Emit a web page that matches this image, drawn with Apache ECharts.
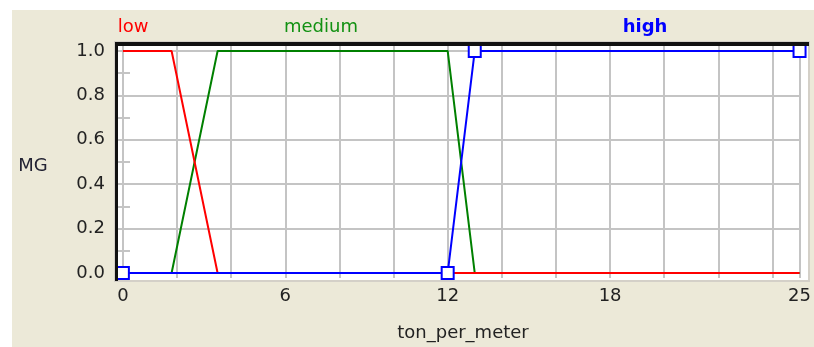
<!DOCTYPE html>
<html>
<head>
<meta charset="utf-8">
<script src="https://cdn.jsdelivr.net/npm/echarts@6/dist/echarts.min.js"></script>
<style>
html,body{margin:0;padding:0;background:#ffffff;}
#chart{width:814px;height:347px;}
</style>
</head>
<body>
<div id="chart"></div>
<script>
// ---- data ----
const xTickLabels = [0, 6, 12, 18, 25];
const yTickLabels = [0, 0.2, 0.4, 0.6, 0.8, 1.0];
const xGridValues = [0, 2, 4, 6, 8, 10, 12, 14, 16, 18, 20, 22, 24, 25];
const yMinorTicks = [0.1, 0.3, 0.5, 0.7, 0.9];
const lowX = [0, 1.8, 3.5, 25];
const lowY = [1, 1, 0, 0];
const mediumX = [0, 1.8, 3.5, 12, 13, 25];
const mediumY = [0, 0, 1, 1, 0, 0];
const highX = [0, 12, 13, 25];
const highY = [0, 0, 1, 1];
const mfNames = ['low', 'medium', 'high'];
const xName = 'ton_per_meter';
const yName = 'MG';

const pair = (xs, ys) => xs.map((x, i) => [x, ys[i]]);
const FONT = 'DejaVu Sans';

const chart = echarts.init(document.getElementById('chart'), null, {renderer: 'canvas'});

const gridLineStyle = {color: '#c4c4c4', width: 2, type: 'solid'};

const option = {
  animation: false,
  backgroundColor: '#ffffff',
  grid: {left: 118, right: 11.5, top: 46, bottom: 69, containLabel: false},
  xAxis: {
    type: 'value', min: -0.18, max: 25,
    axisLine: {show: false, onZero: false},
    axisTick: {show: false},
    splitLine: {show: false},
    axisLabel: {
      customValues: xTickLabels,
      fontFamily: FONT, fontSize: 18, color: '#222', margin: 9,
      formatter: v => String(v)
    }
  },
  yAxis: {
    type: 'value', min: -0.0225, max: 1.0225,
    axisLine: {show: false, onZero: false},
    axisTick: {show: true, inside: true, length: 12, customValues: yMinorTicks,
      lineStyle: {color: '#c4c4c4', width: 2}},
    splitLine: {show: false},
    axisLabel: {
      customValues: yTickLabels,
      fontFamily: FONT, fontSize: 18, color: '#222', margin: 13,
      formatter: v => v.toFixed(1)
    }
  },
  graphic: [
    {type: 'rect', z: -20, silent: true, shape: {x: 12, y: 10, width: 802, height: 337}, style: {fill: '#ECE9D8'}},
    {type: 'rect', z: -19, silent: true, shape: {x: 115, y: 42, width: 694, height: 239}, style: {fill: '#ffffff', stroke: '#d4d0c8', lineWidth: 2}},
    {type: 'rect', z: 50, silent: true, shape: {x: 115, y: 42, width: 694, height: 4}, style: {fill: '#111'}},
    {type: 'rect', z: 50, silent: true, shape: {x: 115, y: 42, width: 3, height: 239}, style: {fill: '#111'}},
    {type: 'text', z: 50, silent: true, x: 133, y: 27, style: {text: mfNames[0], fill: '#ff0000', font: '18px "' + FONT + '"', align: 'center', verticalAlign: 'middle'}},
    {type: 'text', z: 50, silent: true, x: 321, y: 27, style: {text: mfNames[1], fill: '#129112', font: '18px "' + FONT + '"', align: 'center', verticalAlign: 'middle'}},
    {type: 'text', z: 50, silent: true, x: 645, y: 27, style: {text: mfNames[2], fill: '#0000ff', font: 'bold 18px "' + FONT + '"', align: 'center', verticalAlign: 'middle'}},
    {type: 'text', z: 50, silent: true, x: 463, y: 333, style: {text: xName, fill: '#222', font: '18px "' + FONT + '"', align: 'center', verticalAlign: 'middle'}},
    {type: 'text', z: 50, silent: true, x: 33, y: 166, style: {text: yName, fill: '#223', font: '18px "' + FONT + '"', align: 'center', verticalAlign: 'middle'}}
  ],
  series: [
    {
      type: 'line', name: 'grid', data: [], z: 1, silent: true,
      markLine: {
        z: 1,
        silent: true, symbol: 'none', label: {show: false}, animation: false,
        lineStyle: gridLineStyle,
        data: xGridValues.map(v => ({xAxis: v})).concat(yTickLabels.map(v => ({yAxis: v})))
      }
    },
    {
      type: 'line', name: mfNames[1], data: pair(mediumX, mediumY), z: 3,
      showSymbol: false, symbol: 'none',
      lineStyle: {color: '#008000', width: 2}
    },
    {
      type: 'line', name: mfNames[0], data: pair(lowX, lowY), z: 4,
      showSymbol: false, symbol: 'none',
      lineStyle: {color: '#ff0000', width: 2}
    },
    {
      type: 'line', name: mfNames[2], data: pair(highX, highY), z: 5,
      showSymbol: true, symbol: 'rect', symbolSize: 12,
      lineStyle: {color: '#0000ff', width: 2},
      itemStyle: {color: '#ffffff', borderColor: '#0000ff', borderWidth: 2}
    }
  ]
};
chart.setOption(option);
</script>
</body>
</html>
